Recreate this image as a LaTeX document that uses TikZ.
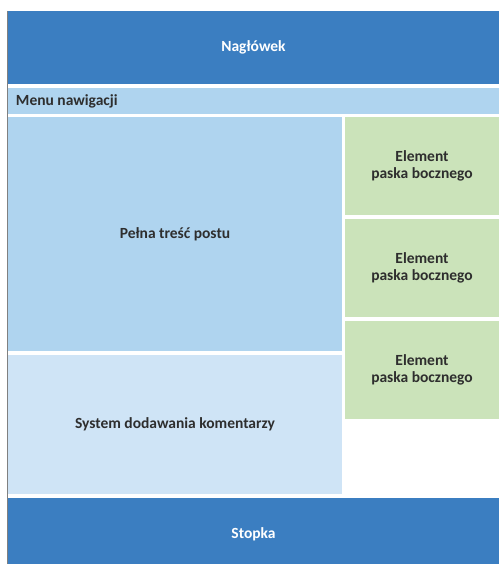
\documentclass[tikz,border=0pt]{standalone}
\usepackage{fontspec}
\setmainfont{Carlito}
\definecolor{headblue}{HTML}{3B7EC1}
\definecolor{menublue}{HTML}{AFD4EF}
\definecolor{postblue}{HTML}{AFD4EF}
\definecolor{commblue}{HTML}{CFE4F6}
\definecolor{sidegreen}{HTML}{CBE3BA}
\definecolor{textgray}{HTML}{2E2E2E}
\begin{document}
\begin{tikzpicture}[x=1pt, y=-1pt,
    box/.style={anchor=north west, inner sep=0pt, outer sep=0pt, align=center,
        font=\fontsize{15.5}{17}\selectfont\bfseries, text=textgray},
    bar/.style={box, fill=headblue, text=white, minimum width=491pt},
    side/.style={box, fill=sidegreen, minimum width=154pt, minimum height=98pt}]
    \useasboundingbox (0,0) rectangle (499,564);

    % Header and menu
    \node[bar, minimum height=73pt] (head) at (8,11) {Nagłówek};
    \node[box, fill=menublue, minimum width=491pt, minimum height=26pt] (menu) at (8,88) {};
    \node[box, anchor=west] (menutext) at ([xshift=8pt]menu.west) {Menu nawigacji};

    % Main column
    \node[box, fill=postblue, minimum width=334pt, minimum height=234pt] (post) at (8,117) {Pełna treść postu};
    \node[box, fill=commblue, minimum width=334pt, minimum height=139pt] (comments) at (8,355) {System dodawania komentarzy};

    % Sidebar
    \node[side] (side1) at (345,117) {Element\\paska bocznego};
    \node[side] (side2) at (345,219) {Element\\paska bocznego};
    \node[side] (side3) at (345,321) {Element\\paska bocznego};

    % Footer
    \node[bar, minimum height=66pt] (foot) at (8,498) {};
    \node[box, anchor=center, text=white] (foottext) at ([yshift=-3pt]foot.center) {Stopka};

    % Left edge line
    \draw[gray, line width=1.2pt] (head.north west) ++(-0.6,0) -- (7.4,564);
\end{tikzpicture}
\end{document}
